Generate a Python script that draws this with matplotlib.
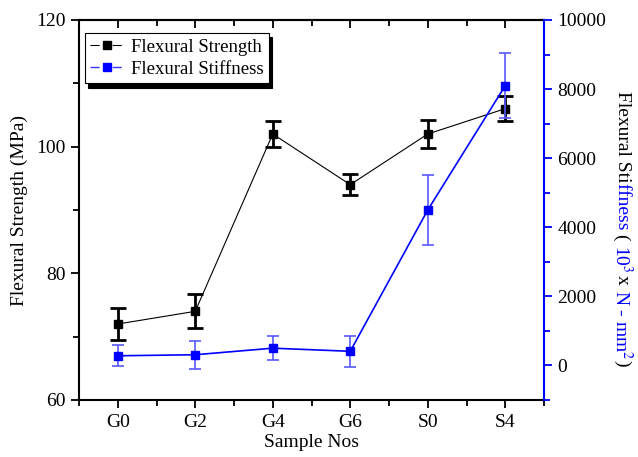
import matplotlib.pyplot as plt
from matplotlib.lines import Line2D
from matplotlib.ticker import MultipleLocator

plt.rcParams['font.family'] = ['Liberation Serif', 'DejaVu Serif']
plt.rcParams['mathtext.fontset'] = 'stix'
plt.rcParams['lines.scale_dashes'] = False

samples = ["G0", "G2", "G4", "G6", "S0", "S4"]
strength = [72, 74, 102, 94, 102, 106]
strength_err = [2.5, 2.7, 2.0, 1.7, 2.2, 2.0]
stiffness = [280, 310, 500, 410, 4500, 8100]
stiffness_err = [300, 400, 350, 450, 1000, 950]

blue = "#0000ff"
x = list(range(len(samples)))

fig = plt.figure(figsize=(6.38, 4.57), dpi=100)
ax = fig.add_axes([79 / 638, 57 / 457, 465 / 638, 380 / 457])
ax2 = ax.twinx()

ax.errorbar(x, strength, yerr=strength_err, color="black", lw=0.8, marker="s",
            ms=6, ecolor="black", elinewidth=2, capsize=6, capthick=2, zorder=3)
ax2.errorbar(x, stiffness, yerr=stiffness_err, color=blue, lw=1.2, marker="s",
             ms=6, ecolor=(0.35, 0.35, 1.0), elinewidth=1.2, capsize=4, capthick=1.2)

ax.set_xlim(-0.5, 5.5)
ax.set_ylim(60, 120)
ax2.set_ylim(-1000, 10000)
ax.set_xticks(x)
ax.set_xticklabels(samples)
ax.xaxis.set_minor_locator(MultipleLocator(0.5))
ax.yaxis.set_major_locator(MultipleLocator(20))
ax.yaxis.set_minor_locator(MultipleLocator(10))
ax2.set_yticks([0, 2000, 4000, 6000, 8000, 10000])
ax2.yaxis.set_minor_locator(MultipleLocator(1000))

ax.tick_params(axis="x", which="both", direction="out", top=False, labelsize=14,
               width=1.3, pad=4)
ax.tick_params(axis="x", which="major", length=6)
ax.tick_params(axis="x", which="minor", length=4)
ax.tick_params(axis="y", which="major", direction="out", length=6, width=1.3, labelsize=14)
ax.tick_params(axis="y", which="minor", direction="out", length=4, width=1.3)
ax2.tick_params(axis="y", which="major", direction="out", length=6, width=1.3,
                color=blue, labelsize=14)
ax2.tick_params(axis="y", which="minor", direction="out", length=4, width=1.3, color=blue)

# top axis ticks point inward
top = ax.secondary_xaxis("top")
top.set_xticks(x)
top.xaxis.set_minor_locator(MultipleLocator(0.5))
top.tick_params(axis="x", which="both", direction="in", labeltop=False, width=1.3)
top.tick_params(axis="x", which="major", length=6)
top.tick_params(axis="x", which="minor", length=4)
top.spines["top"].set_linewidth(1.5)

for s in ["left", "bottom", "top"]:
    ax.spines[s].set_linewidth(1.5)
ax2.spines["right"].set_color(blue)
ax2.spines["right"].set_linewidth(1.5)
for s in ["left", "bottom", "top"]:
    ax2.spines[s].set_visible(False)
ax.spines["right"].set_visible(False)

ax.set_xlabel("Sample Nos", fontsize=14, labelpad=2)
ax.set_ylabel("Flexural Strength (MPa)", fontsize=14, labelpad=6)

handles = [
    (Line2D([], [], color="black", lw=0.8, ls=(0, (6.5, 9.5))),
     Line2D([], [], color="black", ls="none", marker="s", ms=6)),
    (Line2D([], [], color=blue, lw=1.0, ls=(0, (6.5, 9.5)), alpha=0.8),
     Line2D([], [], color=blue, ls="none", marker="s", ms=6)),
]
leg = ax.legend(handles, ["Flexural Strength", "Flexural Stiffness"],
                loc="upper left", bbox_to_anchor=(0.0, 0.98), fontsize=13.5,
                frameon=True, fancybox=False, edgecolor="black",
                shadow={"color": "black", "alpha": 1.0, "ox": 2.2, "oy": -3},
                borderpad=0.3, handlelength=1.75, handletextpad=0.4,
                labelspacing=0.25, borderaxespad=0.3)
leg.get_frame().set_linewidth(0.8)

# right axis label in two colours, reading downward
pieces = [("Flexural Sti", "black"), ("ffness ", blue), ("( ", "black"),
          ("10$^3$ ", blue), ("x ", "black"), ("N - mm$^2$ ", blue), (")", "black")]
fig.canvas.draw()
renderer = fig.canvas.get_renderer()
texts = []
for s, c in pieces:
    t = fig.text(0, 0, s, color=c, fontsize=14, rotation=270,
                 ha="center", va="top")
    texts.append(t)
heights = [t.get_window_extent(renderer).height for t in texts]
total = sum(heights)
xc = 622
ytop = 228 + total / 2
for t, h in zip(texts, heights):
    t.set_position((xc / 638, ytop / 457))
    ytop -= h

fig.savefig("out.png", dpi=100)
